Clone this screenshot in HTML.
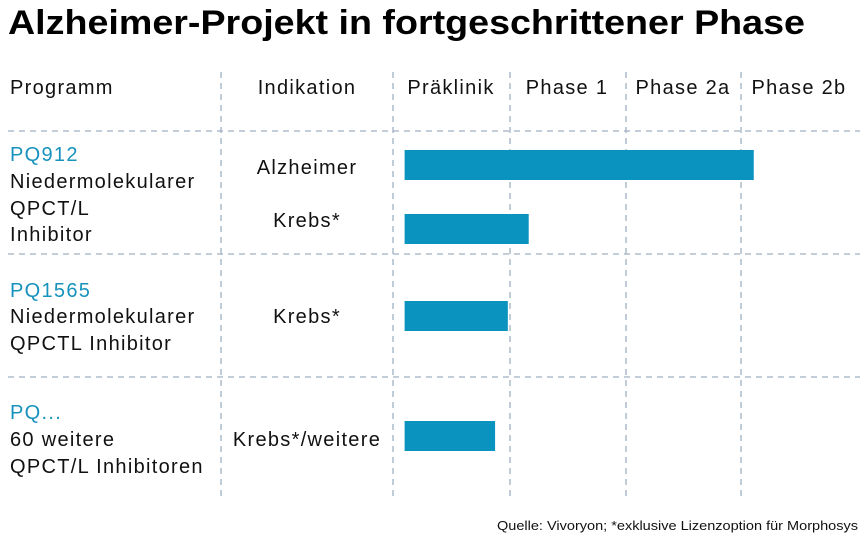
<!DOCTYPE html>
<html><head><meta charset="utf-8"><style>
body{margin:0;background:#fff;}
svg{display:block;font-family:"Liberation Sans",sans-serif;}
</style></head><body>
<svg width="867" height="548" viewBox="0 0 867 548">
<text x="8" y="34" font-size="34" font-weight="bold" fill="#000" textLength="797" lengthAdjust="spacingAndGlyphs">Alzheimer-Projekt in fortgeschrittener Phase</text>
<g id="grid" stroke="#9fb0c2" stroke-width="1.3" stroke-dasharray="6,5"></g>
<g id="headers" font-size="20" fill="#111" letter-spacing="1.3"></g>
<g id="labels" font-size="20" letter-spacing="1.3"></g>
<g id="bars"></g>
<text x="858" y="530" font-size="12.5" text-anchor="end" fill="#111" textLength="361" lengthAdjust="spacingAndGlyphs">Quelle: Vivoryon; *exklusive Lizenzoption für Morphosys</text>
</svg>
<script>
const phases = ["Präklinik","Phase 1","Phase 2a","Phase 2b"];
const indications = ["Alzheimer","Krebs*","Krebs*","Krebs*/weitere"];
const barStart = [0.1,0.1,0.1,0.1];
const barEnd = [3.11,1.17,0.99,0.88];
const NS="http://www.w3.org/2000/svg";
const x0=393, colW=116;
function xs(v){return x0+v*colW;}
const barY=[150,214,301,421], barH=30;
const indY=[174,227,323,446];
function mk(tag,attrs,parent,text){const e=document.createElementNS(NS,tag);for(const k in attrs)e.setAttribute(k,attrs[k]);if(text!==undefined)e.textContent=text;parent.appendChild(e);return e;}
const grid=document.getElementById('grid');
[221,393,510,626,741].forEach(x=>{const l=mk('line',{x1:x,y1:72,x2:x,y2:500},grid);

});
[131,254,377].forEach(y=>{const l=mk('line',{x1:8,y1:y,x2:860,y2:y},grid);

});
const hd=document.getElementById('headers');
let t=mk('text',{x:10,y:94},hd,"Programm");


t=mk('text',{x:307,y:94,'text-anchor':'middle'},hd,"Indikation");


phases.forEach((p,i)=>{const e=mk('text',{x:xs(i+0.5),y:94,'text-anchor':'middle'},hd,p);

});
const lb=document.getElementById('labels');
const prog=[[161,"PQ912",true],[188,"Niedermolekularer"],[215,"QPCT/L"],[241,"Inhibitor"],
[297,"PQ1565",true],[323,"Niedermolekularer"],[350,"QPCTL Inhibitor"],
[419,"PQ...",true],[446,"60 weitere"],[473,"QPCT/L Inhibitoren"]];
prog.forEach(p=>{const e=mk('text',{x:10,y:p[0],fill:p[2]?'#1792bd':'#111'},lb,p[1]);

});
indications.forEach((s,i)=>{const e=mk('text',{x:307,y:indY[i],'text-anchor':'middle',fill:'#111'},lb,s);

});
const bg=document.getElementById('bars');
barEnd.forEach((v,i)=>{const r=mk('rect',{x:xs(barStart[i]),y:barY[i],width:xs(v)-xs(barStart[i]),height:barH,fill:'#0a93bf'},bg);

});
</script>
</body></html>
